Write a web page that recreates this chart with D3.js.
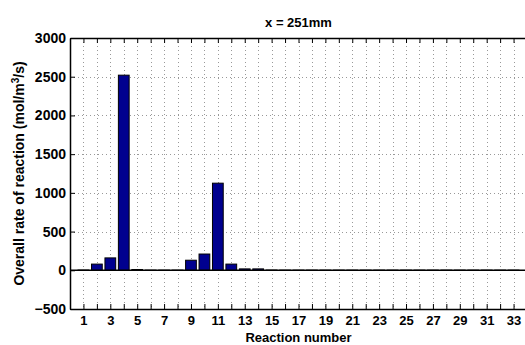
<!DOCTYPE html>
<html>
<head>
<meta charset="utf-8">
<script src="https://cdn.jsdelivr.net/npm/d3@7"></script>
<style>
  html, body { margin: 0; padding: 0; background: #fff; }
  svg { display: block; }
  text { font-family: "Liberation Sans", Arial, sans-serif; font-weight: bold; fill: #000; }
</style>
</head>
<body>
<svg id="chart" width="525" height="345"></svg>
<script>
// Reaction numbers and their overall rates (mol/m^3/s) at x = 251 mm
const reactions = d3.range(1, 34);
const rates = [3, 80, 160, 2520, 10, 2, 2, 2, 130, 210, 1125, 80, 18, 18, 3,
               2, 2, 2, 2, 2, 2, 2, 2, 2, 2, 2, 2, 2, 2, 2, 2, 2, 2];
const yTicks = [-500, 0, 500, 1000, 1500, 2000, 2500, 3000];

const margin = { left: 70, right: -2, top: 38, bottom: 36 };
const W = 525, H = 345;
const svg = d3.select("#chart");

const x = d3.scaleLinear().domain([0, 34]).range([margin.left, W - margin.right]);
const y = d3.scaleLinear().domain([-500, 3000]).range([H - margin.bottom, margin.top]);

const x0 = x.range()[0], x1 = x.range()[1];
const y0 = y.range()[1], y1 = y.range()[0];

// dotted grid
const grid = svg.append("g").attr("stroke", "#999").attr("stroke-width", 1)
  .attr("stroke-dasharray", "1,3");
grid.selectAll("line.v").data(reactions).join("line")
  .attr("x1", d => Math.round(x(d)) + 0.5).attr("x2", d => Math.round(x(d)) + 0.5)
  .attr("y1", y0).attr("y2", y1);
grid.selectAll("line.h").data(yTicks.filter(d => d !== 0 && d !== -500 && d !== 3000)).join("line")
  .attr("y1", d => Math.round(y(d)) + 0.5).attr("y2", d => Math.round(y(d)) + 0.5)
  .attr("x1", x0).attr("x2", x1);

// bars
const bw = 0.8;
svg.append("g").selectAll("rect").data(reactions).join("rect")
  .attr("x", (d) => x(d - bw / 2))
  .attr("width", x(bw) - x(0))
  .attr("y", (d, i) => y(Math.max(0, rates[i])))
  .attr("height", (d, i) => Math.abs(y(rates[i]) - y(0)))
  .attr("fill", "#00008f")
  .attr("stroke", "#000")
  .attr("stroke-width", 1);

// baseline at zero
svg.append("line")
  .attr("x1", x0).attr("x2", x1)
  .attr("y1", y(0)).attr("y2", y(0))
  .attr("stroke", "#000").attr("stroke-width", 1.5);

// axes
const axisB = d3.axisBottom(x).tickValues(reactions).tickSizeInner(-5).tickSizeOuter(0)
  .tickPadding(7).tickFormat(d => d % 2 === 1 ? d : "");
const axisT = d3.axisTop(x).tickValues(reactions).tickSizeInner(-5).tickSizeOuter(0).tickFormat("");
const axisL = d3.axisLeft(y).tickValues(yTicks).tickSizeInner(-5).tickSizeOuter(0)
  .tickPadding(4).tickFormat(d => d < 0 ? "\u2212" + Math.abs(d) : d);

function style(g, size) {
  g.select(".domain").attr("stroke", "#000").attr("stroke-width", 1.5);
  g.selectAll(".tick line").attr("stroke", "#000");
  g.selectAll(".tick text").attr("font-size", size).attr("font-weight", "bold")
    .attr("font-family", "Liberation Sans, Arial, sans-serif").attr("fill", "#000");
}
svg.append("g").attr("transform", `translate(0,${y1})`).call(axisB).call(style, 13);
svg.append("g").attr("transform", `translate(0,${y0})`).call(axisT).call(style, 13);
svg.append("g").attr("transform", `translate(${x0},0)`).call(axisL).call(style, 14);

// title and axis labels
svg.append("text").attr("x", (x0 + 527) / 2).attr("y", 27)
  .attr("text-anchor", "middle").attr("font-size", 13).text("x = 251mm");

svg.append("text").attr("x", (x0 + 527) / 2).attr("y", 342)
  .attr("text-anchor", "middle").attr("font-size", 13).text("Reaction number");

const yl = svg.append("text")
  .attr("transform", `translate(24,${(y0 + y1) / 2}) rotate(-90)`)
  .attr("text-anchor", "middle").attr("font-size", 14);
yl.append("tspan").text("Overall rate of reaction (mol/m");
yl.append("tspan").attr("baseline-shift", "super").attr("font-size", 10).text("3");
yl.append("tspan").text("/s)");
</script>
</body>
</html>
